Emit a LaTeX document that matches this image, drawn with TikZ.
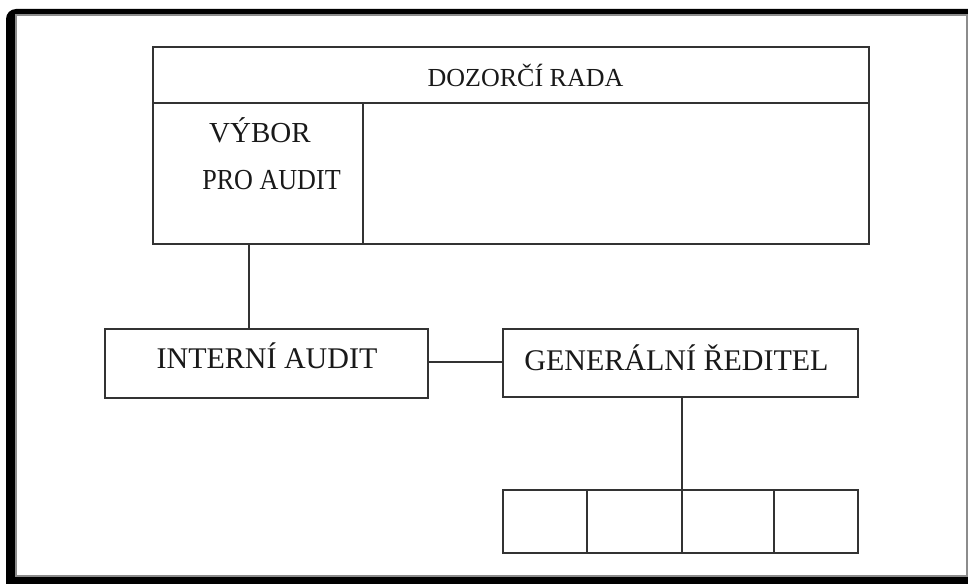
\documentclass[tikz,border=0pt]{standalone}
\usepackage{fontspec}
\setmainfont{Liberation Serif}
\begin{document}
\begin{tikzpicture}[x=1pt,y=-1pt,
  box/.style={draw=black!80,line width=2pt,rectangle,inner sep=0pt,outer sep=0pt},
  lnk/.style={draw=black!80,line width=2pt},
  big/.style={inner sep=0pt,anchor=base,font=\fontsize{30}{36}\selectfont,text=black!90},
  mid/.style={inner sep=0pt,anchor=base,font=\fontsize{26}{31}\selectfont,text=black!90}]
\useasboundingbox (0,0) rectangle (968,583);
\clip (0,0) rectangle (968,583);
% frame
\fill[black,rounded corners=10pt] (6,9) rectangle (990,600);
\fill[black!45] (15,14) rectangle (968,577);
\fill[white] (17,16) rectangle (966,575);
% boxes
\node[box,minimum width=716pt,minimum height=197pt] (dr) at (511,145.5) {};
\node[box,minimum width=210pt,minimum height=141pt] (vybor) at (258,173.5) {};
\draw[lnk] (vybor.north west) -- (vybor.north west -| dr.east);
\node[box,minimum width=323pt,minimum height=69pt] (ia) at (266.5,363.5) {};
\node[box,minimum width=355pt,minimum height=68pt] (gr) at (680.5,363) {};
\node[box,minimum width=84pt,minimum height=63pt] (s1) at (545,521.5) {};
\node[box,minimum width=95pt,minimum height=63pt] (s2) at (634.5,521.5) {};
\node[box,minimum width=92pt,minimum height=63pt] (s3) at (728,521.5) {};
\node[box,minimum width=84pt,minimum height=63pt] (s4) at (816,521.5) {};
% texts
\node[mid] (t1) at (525.5,87) {DOZORČÍ RADA};
\node[mid,font=\fontsize{29}{34}\selectfont] (t2) at (260,142.5) {VÝBOR};
\node[mid,font=\fontsize{29}{34}\selectfont,xscale=0.9] (t3) at (271.5,189.5) {PRO AUDIT};
\node[big] (t4) at (267,368) {INTERNÍ AUDIT};
\node[big] (t5) at (676.5,370) {GENERÁLNÍ ŘEDITEL};
% connectors
\coordinate (cx) at (249,0);
\draw[lnk] (vybor.south -| cx) -- (ia.north -| cx);
\draw[lnk] (ia.east |- 0,362) -- (gr.west |- 0,362);
\draw[lnk] (gr.south -| s3.north west) -- (s3.north west);
\end{tikzpicture}
\end{document}
